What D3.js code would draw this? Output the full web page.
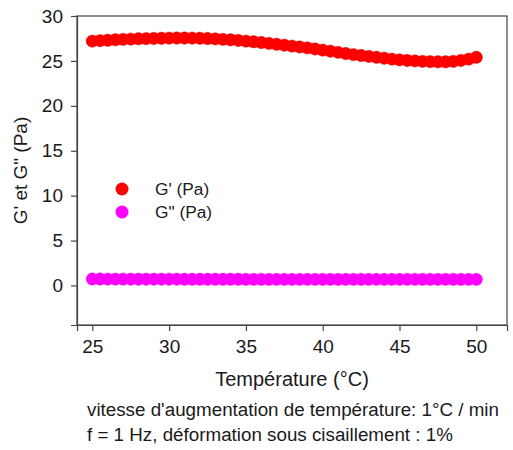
<!DOCTYPE html>
<html><head><meta charset="utf-8">
<script src="https://cdn.jsdelivr.net/npm/d3@7"></script>
<style>body{margin:0;background:#fff}svg{display:block}text{font-family:"Liberation Sans",Arial,sans-serif;fill:#1a1a1a}</style>
</head><body><div id="chart"></div>
<script>
const temperature = [25,25.5,26,26.5,27,27.5,28,28.5,29,29.5,30,30.5,31,31.5,32,32.5,33,33.5,34,34.5,35,35.5,36,36.5,37,37.5,38,38.5,39,39.5,40,40.5,41,41.5,42,42.5,43,43.5,44,44.5,45,45.5,46,46.5,47,47.5,48,48.5,49,49.5,50];
const gPrime = [27.2,27.25,27.3,27.35,27.4,27.43,27.46,27.48,27.5,27.52,27.54,27.55,27.55,27.54,27.52,27.49,27.45,27.4,27.35,27.28,27.2,27.13,27.05,26.95,26.85,26.75,26.65,26.55,26.45,26.33,26.2,26.08,25.95,25.82,25.7,25.6,25.5,25.4,25.3,25.2,25.12,25.05,25.0,24.95,24.92,24.9,24.9,24.95,25.05,25.2,25.4];
const gSecond = [0.72,0.72,0.71,0.71,0.71,0.7,0.7,0.7,0.7,0.7,0.7,0.7,0.69,0.69,0.69,0.69,0.69,0.69,0.69,0.69,0.68,0.68,0.68,0.68,0.68,0.68,0.68,0.68,0.68,0.68,0.68,0.68,0.68,0.68,0.68,0.68,0.68,0.68,0.68,0.68,0.68,0.68,0.68,0.68,0.68,0.68,0.68,0.68,0.68,0.68,0.68];
const xTicks = [25,30,35,40,45,50];
const yTicks = [0,5,10,15,20,25,30];
const seriesNames = ["G' (Pa)", "G\" (Pa)"];
const seriesColors = ["#ff0000", "#ff00ff"];

const W = 513, H = 450;
const m = {left:77, right:6, top:16, bottom:125};
const svg = d3.select("#chart").append("svg").attr("width",W).attr("height",H);
const x = d3.scaleLinear().domain([24,52]).range([m.left, W-m.right]);
const y = d3.scaleLinear().domain([-4.4,30]).range([H-m.bottom, m.top]);

const axisColor = "#444";
svg.append("rect").attr("x",x(24)).attr("y",y(30)).attr("width",x(52)-x(24)).attr("height",y(-4.4)-y(30))
  .attr("fill","none").attr("stroke",axisColor).attr("stroke-width",1.2);

const xa = svg.append("g").attr("transform",`translate(0,${y(-4.4)})`)
  .call(d3.axisBottom(x).tickValues(xTicks).tickSize(6).tickPadding(9).tickFormat(d3.format("d")));
const ya = svg.append("g").attr("transform",`translate(${x(24)},0)`)
  .call(d3.axisLeft(y).tickValues(yTicks).tickSize(6).tickPadding(8).tickFormat(d3.format("d")));
[xa,ya].forEach(a=>{
  a.attr("font-size",null).attr("font-family",null);
  a.select(".domain").attr("stroke",axisColor).attr("stroke-width",1.2);
  a.selectAll(".tick line").attr("stroke",axisColor).attr("stroke-width",1.2);
  a.selectAll(".tick text").attr("fill","#1a1a1a").style("font-size","19px");
});

const series = [gSecond, gPrime];
const cols = [seriesColors[1], seriesColors[0]];
series.forEach((vals,i)=>{
  svg.append("g").selectAll("circle").data(temperature).join("circle")
    .attr("cx",d=>x(d)).attr("cy",(d,j)=>y(vals[j])).attr("r",6.2)
    .attr("fill",cols[i]).attr("stroke",d3.color(cols[i]).darker(0.4)).attr("stroke-width",0.4);
});

const lg = svg.append("g");
seriesNames.forEach((n,i)=>{
  const yy = 189 + i*23;
  lg.append("circle").attr("cx",122).attr("cy",yy).attr("r",6.5).attr("fill",seriesColors[i]);
  lg.append("text").attr("x",155).attr("y",yy).attr("dy","0.35em").style("font-size","17.3px").text(n);
});

svg.append("text").attr("x",(x(24)+x(52))/2).attr("y",386).attr("text-anchor","middle").style("font-size","20px").text("Température (°C)");
svg.append("text").attr("transform",`translate(27,${(y(30)+y(-4.4))/2}) rotate(-90)`).attr("text-anchor","middle").style("font-size","19px").text("G' et G\" (Pa)");
svg.append("text").attr("x",87).attr("y",416).style("font-size","18.8px").text("vitesse d'augmentation de température: 1°C / min");
svg.append("text").attr("x",87).attr("y",441).style("font-size","18.8px").text("f = 1 Hz, déformation sous cisaillement : 1%");
</script></body></html>
